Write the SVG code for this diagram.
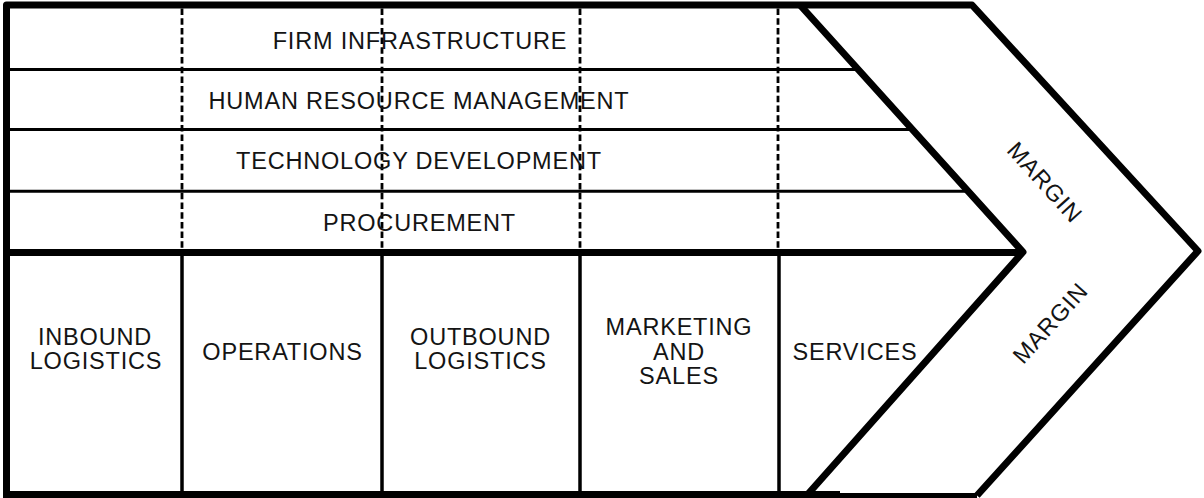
<svg xmlns="http://www.w3.org/2000/svg" width="1204" height="498" viewBox="0 0 1204 498">
<style>
.lbl{font-family:"Liberation Sans",Arial,sans-serif;font-size:23.5px;letter-spacing:0.8px;fill:#141414;text-anchor:middle}
.thick{stroke:#000;stroke-width:7;fill:none;stroke-linejoin:round}
.thin{stroke:#000;stroke-width:3;fill:none}
.col{stroke:#000;stroke-width:3.5;fill:none}
.dash{stroke:#000;stroke-width:2.8;fill:none;stroke-dasharray:6.5 3.2}
</style>
<rect width="1204" height="498" fill="#fff"/>
<g id="frame">
<path class="thick" d="M6.5,494.5 V5 H972 L1198,251 L977,495.5"/>
<line class="thick" x1="3" y1="494.5" x2="840" y2="494.5"/>
<line x1="808" y1="495.5" x2="977" y2="495.5" stroke="#000" stroke-width="5"/>
<path class="thick" d="M800,5 L1023,252 L808,494"/>
<line class="thick" x1="6.5" y1="252.5" x2="1023" y2="252.5"/>
</g>
<g id="connectors">
<line class="thin" x1="6.5" y1="69.5" x2="860" y2="69.5"/>
<line class="thin" x1="6.5" y1="129.5" x2="914" y2="129.5"/>
<line class="thin" x1="6.5" y1="191.2" x2="970" y2="191.2"/>
<line class="dash" x1="182" y1="8.5" x2="182" y2="249"/>
<line class="dash" x1="382" y1="8.5" x2="382" y2="249"/>
<line class="dash" x1="580" y1="8.5" x2="580" y2="249"/>
<line class="dash" x1="778" y1="8.5" x2="778" y2="249"/>
<line class="col" x1="182" y1="252" x2="182" y2="491"/>
<line class="col" x1="382" y1="252" x2="382" y2="491"/>
<line class="col" x1="580" y1="252" x2="580" y2="491"/>
<line class="col" x1="779" y1="252" x2="779" y2="491"/>
</g>
<g id="firm-infrastructure"><text class="lbl" x="420" y="48.5">FIRM INFRASTRUCTURE</text></g>
<g id="human-resource-management"><text class="lbl" x="419" y="108.5">HUMAN RESOURCE MANAGEMENT</text></g>
<g id="technology-development"><text class="lbl" x="419" y="168.5">TECHNOLOGY DEVELOPMENT</text></g>
<g id="procurement"><text class="lbl" x="419.5" y="230.5">PROCUREMENT</text></g>
<g id="inbound-logistics"><text class="lbl" x="95" y="345">INBOUND</text><text class="lbl" x="96" y="368.5">LOGISTICS</text></g>
<g id="operations"><text class="lbl" x="282.5" y="359.5">OPERATIONS</text></g>
<g id="outbound-logistics"><text class="lbl" x="480.5" y="345">OUTBOUND</text><text class="lbl" x="480.5" y="369">LOGISTICS</text></g>
<g id="marketing-and-sales"><text class="lbl" x="679" y="335">MARKETING</text><text class="lbl" x="679" y="359.5">AND</text><text class="lbl" x="679" y="383.5">SALES</text></g>
<g id="services"><text class="lbl" x="855" y="359.5">SERVICES</text></g>
<g id="margin-top"><text class="lbl" transform="translate(1045,182) rotate(48)" x="0" y="8.4">MARGIN</text></g>
<g id="margin-bottom"><text class="lbl" transform="translate(1050,323) rotate(-48)" x="0" y="8.4">MARGIN</text></g>
</svg>
